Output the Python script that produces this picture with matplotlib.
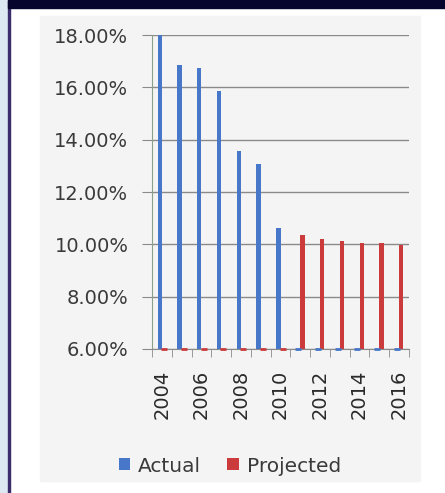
import matplotlib
matplotlib.use("Agg")
import matplotlib.pyplot as plt
from matplotlib.patches import Rectangle
import numpy as np

years = [2004, 2005, 2006, 2007, 2008, 2009, 2010, 2011, 2012, 2013, 2014, 2015, 2016]
actual = [18.0, 16.85, 16.75, 15.86, 13.55, 13.06, 10.62, None, None, None, None, None, None]
projected = [None, None, None, None, None, None, None, 10.35, 10.22, 10.12, 10.04, 10.04, 9.98]
yticks = [6, 8, 10, 12, 14, 16, 18]
xlabels = ["2004", "2006", "2008", "2010", "2012", "2014", "2016"]

BLUE = "#4677c8"
RED = "#cc3b3b"
FONT = "DejaVu Sans"

W, H = 445, 493
fig = plt.figure(figsize=(W / 100, H / 100), dpi=100)
fig.patch.set_facecolor("white")

def fx(px):
    return px / W

def fy(py):
    return 1 - py / H

# decorations
for rect in [
    Rectangle((0, 0), fx(8), 1, color="#dce8f2"),
    Rectangle((fx(8), 0), fx(2), 1, color="#3b2d6b"),
    Rectangle((fx(8), fy(8)), 1, 8 / H, color="#05052e"),
    Rectangle((fx(40), fy(481)), fx(380), 465 / H, color="#f4f4f4"),
]:
    rect.set_transform(fig.transFigure)
    rect.set_zorder(-5)
    fig.patches.append(rect)

ax = fig.add_axes([fx(152), fy(349), fx(409 - 152), (349 - 35) / H])
ax.set_facecolor("none")

n = len(years)
x = np.arange(n)
bw = 0.22
off = 0.11
ymin, ymax = 6, 18

a_vals = np.array([np.nan if v is None else v for v in actual])
p_vals = np.array([np.nan if v is None else v for v in projected])

ax.bar(x - off, a_vals - ymin, bottom=ymin, width=bw, color=BLUE, zorder=3, label="Actual")
ax.bar(x + off, p_vals - ymin, bottom=ymin, width=bw, color=RED, zorder=3, label="Projected")

# empty-series markers at baseline
miss_a = np.isnan(a_vals)
miss_p = np.isnan(p_vals)
ax.scatter(x[miss_a] - off, np.full(miss_a.sum(), ymin), marker="_", s=18, color=BLUE, linewidths=2, zorder=4, clip_on=False)
ax.scatter(x[miss_p] + off, np.full(miss_p.sum(), ymin), marker="_", s=18, color=RED, linewidths=2, zorder=4, clip_on=False)

ax.set_xlim(-0.5, n - 0.5)
ax.set_ylim(ymin, ymax)
ax.set_yticks(yticks)
ax.set_yticklabels([f"{t:.2f}%" for t in yticks], fontsize=14, family=FONT, color="#3a3a3a")
ax.yaxis.grid(True, color="#8a8a8a", lw=1.0, zorder=1)
ax.tick_params(axis="y", length=7, color="#8a8a8a", pad=10)

ax.set_xticks(x[::2])
ax.set_xticklabels(xlabels, rotation=90, fontsize=14, family=FONT, color="#2a2a2a")
ax.set_xticks(np.arange(-0.5, n, 1), minor=True)
ax.tick_params(axis="x", which="major", length=0, pad=15)
ax.tick_params(axis="x", which="minor", length=6, color="#8a8a8a")

for s in ["top", "right"]:
    ax.spines[s].set_visible(False)
ax.spines["left"].set_color("#8aa08a")
ax.spines["bottom"].set_color("#8a8a8a")

leg = fig.legend(loc="center", bbox_to_anchor=(fx(230), fy(466)), ncol=2, frameon=False,
                 prop={"family": FONT, "size": 14.5}, handlelength=0.55, handleheight=0.55,
                 handletextpad=0.4, columnspacing=1.3)
for t in leg.get_texts():
    t.set_color("#3a3a3a")

fig.savefig("out.png", dpi=100)
